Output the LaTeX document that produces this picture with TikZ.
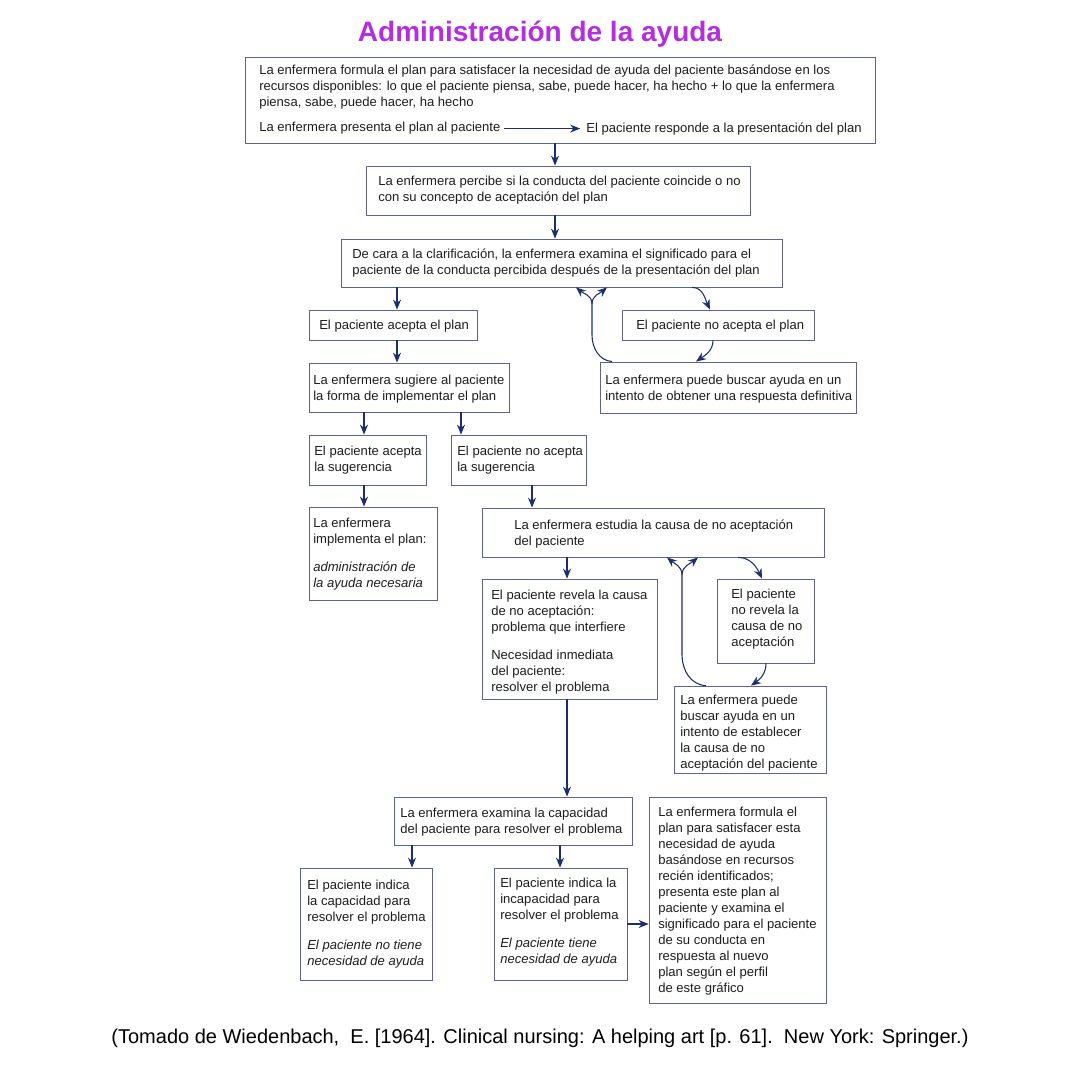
\documentclass[tikz,border=0pt]{standalone}
\usepackage{fontspec}
\setmainfont{Liberation Sans}
\usetikzlibrary{arrows.meta,calc}
\definecolor{navy}{RGB}{30,45,110}
\definecolor{boxc}{RGB}{95,100,140}
\definecolor{txtc}{RGB}{30,30,30}
\definecolor{titlec}{RGB}{180,45,225}
\newcommand{\mybox}[5]{\node[box,minimum width={(#4-#2)*0.75pt},minimum height={(#5-#3)*0.75pt}] (#1) at ({(#2+#4)/2},{(#3+#5)/2}) {};}
\begin{document}
\begin{tikzpicture}[x=0.75pt,y=-0.75pt,
  box/.style={draw=boxc,line width=0.6pt,inner sep=0pt},
  txt/.style={inner sep=0pt,align=left,text=txtc,yshift=-1.2pt,font=\fontsize{9.8}{12}\selectfont},
  arr/.style={draw=navy,line width=0.8pt,-{Stealth[length=7.5pt,width=6pt]}},
  ln/.style={draw=navy,line width=0.8pt}]
\useasboundingbox (0,0) rectangle (1080,1080);
\fill[white] (0,0) rectangle (1080,1080);
\node[font=\fontsize{21}{24}\selectfont\bfseries,text=titlec,inner sep=0pt] (title) at (540,34) {Administración de la ayuda};
% boxes
\mybox{b1}{245}{57}{875}{143}
\mybox{b2}{366}{166}{750}{215}
\mybox{b3}{341}{239}{782}{287}
\mybox{b4}{309}{310}{477}{340}
\mybox{b5}{622}{310}{814}{340}
\mybox{b6}{600}{362}{856}{413}
\mybox{b7}{309}{363}{509}{412}
\mybox{b8}{309}{435}{426}{485}
\mybox{b9}{451}{435}{586}{485}
\mybox{b10}{309}{507}{437}{600}
\mybox{b11}{482}{508}{824}{557}
\mybox{b12}{482}{579}{657}{699}
\mybox{b13}{717}{579}{814}{663}
\mybox{b14}{674}{686}{826}{773}
\mybox{b15}{394}{797}{632}{845}
\mybox{b16}{649}{797}{826}{1003}
\mybox{b17}{300}{868}{432}{980}
\mybox{b18}{494}{868}{627}{980}
% texts
\node[txt,anchor=north west] (t1) at (259,63) {La enfermera formula el plan para satisfacer la necesidad de ayuda del paciente basándose en los\\recursos disponibles: lo que el paciente piensa, sabe, puede hacer, ha hecho + lo que la enfermera\\piensa, sabe, puede hacer, ha hecho};
\node[txt,anchor=west] (t1a) at (259,127) {La enfermera presenta el plan al paciente};
\node[txt,anchor=east] (t1b) at (862,127) {El paciente responde a la presentación del plan};
\draw[arr] ($(t1a.east)+(3,0)$) -- ($(t1b.west)+(-6,0)$);
\node[txt,anchor=west] at (378,189) {La enfermera percibe si la conducta del paciente coincide o no\\con su concepto de aceptación del plan};
\node[txt,anchor=west] at (352,261) {De cara a la clarificación, la enfermera examina el significado para el\\paciente de la conducta percibida después de la presentación del plan};
\node[txt,anchor=west] at (319,325) {El paciente acepta el plan};
\node[txt,anchor=west] at (636,325) {El paciente no acepta el plan};
\node[txt,anchor=west] at (605,388) {La enfermera puede buscar ayuda en un\\intento de obtener una respuesta definitiva};
\node[txt,anchor=west] at (313,388) {La enfermera sugiere al paciente\\la forma de implementar el plan};
\node[txt,anchor=west] at (314,459) {El paciente acepta\\la sugerencia};
\node[txt,anchor=west] at (457,459) {El paciente no acepta\\la sugerencia};
\node[txt,anchor=west] at (313,553) {La enfermera\\implementa el plan:\\[9pt]\itshape administración de\\\itshape la ayuda necesaria};
\node[txt,anchor=west] at (514,532) {La enfermera estudia la causa de no aceptación\\del paciente};
\node[txt,anchor=west] at (491,641) {El paciente revela la causa\\de no aceptación:\\problema que interfiere\\[9pt]Necesidad inmediata\\del paciente:\\resolver el problema};
\node[txt,anchor=west] at (731,618) {El paciente\\no revela la\\causa de no\\aceptación};
\node[txt,anchor=west] at (680,732) {La enfermera puede\\buscar ayuda en un\\intento de establecer\\la causa de no\\aceptación del paciente};
\node[txt,anchor=west] at (400,821) {La enfermera examina la capacidad\\del paciente para resolver el problema};
\node[txt,anchor=west] at (658,900) {La enfermera formula el\\plan para satisfacer esta\\necesidad de ayuda\\basándose en recursos\\recién identificados;\\presenta este plan al\\paciente y examina el\\significado para el paciente\\de su conducta en\\respuesta al nuevo\\plan según el perfil\\de este gráfico};
\node[txt,anchor=west] at (307,923) {El paciente indica\\la capacidad para\\resolver el problema\\[9pt]\itshape El paciente no tiene\\\itshape necesidad de ayuda};
\node[txt,anchor=west] at (500,921) {El paciente indica la\\incapacidad para\\resolver el problema\\[9pt]\itshape El paciente tiene\\\itshape necesidad de ayuda};
\node[font=\fontsize{15}{17}\selectfont,text=black,inner sep=0pt] (cap) at (540,1038) {(Tomado de Wiedenbach,\ \ E. [1964]. Clinical nursing: A helping art [p. 61].\ \ New York: Springer.)};
% connectors
\draw[arr] (b1.south -| 555,0) -- (b2.north -| 555,0);
\draw[arr] (b2.south -| 555,0) -- (b3.north -| 555,0);
\draw[arr] (b3.south -| 397,0) -- (b4.north -| 397,0);
\draw[arr] (b4.south -| 397,0) -- (b7.north -| 397,0);
\draw[arr] (b3.south -| 692,0) to[out=0,in=115] (b5.north -| 710,0);
\draw[arr] (b5.south -| 713,0) to[out=-90,in=35] (b6.north -| 696,0);
\coordinate (s1) at (592,304);
\draw[ln] (b6.north -| 612,0) to[out=175,in=-90] (592,335) -- (s1);
\draw[arr] (s1) to[out=90,in=-40] (b3.south -| 576,0);
\draw[arr] (s1) to[out=90,in=-140] (b3.south -| 607,0);
\draw[arr] (b7.south -| 364,0) -- (b8.north -| 364,0);
\draw[arr] (b7.south -| 461,0) -- (b9.north -| 461,0);
\draw[arr] (b8.south -| 364,0) -- (b10.north -| 364,0);
\draw[arr] (b9.south -| 532,0) -- (b11.north -| 532,0);
\draw[arr] (b11.south -| 567,0) -- (b12.north -| 567,0);
\draw[arr] (b11.south -| 738,0) to[out=0,in=115] (b13.north -| 762,0);
\draw[arr] (b13.south -| 766,0) to[out=-90,in=35] (b14.north -| 751,0);
\coordinate (s2) at (682,575);
\draw[ln] (b14.north -| 706,0) to[out=178,in=-90] (682,655) -- (s2);
\draw[arr] (s2) to[out=90,in=-40] (b11.south -| 667,0);
\draw[arr] (s2) to[out=90,in=-140] (b11.south -| 698,0);
\draw[arr] (b12.south -| 567,0) -- (b15.north -| 567,0);
\draw[arr] (b15.south -| 412,0) -- (b17.north -| 412,0);
\draw[arr] (b15.south -| 560,0) -- (b18.north -| 560,0);
\draw[arr] (b18.east |- 0,924) -- (b16.west |- 0,924);
\end{tikzpicture}
\end{document}
